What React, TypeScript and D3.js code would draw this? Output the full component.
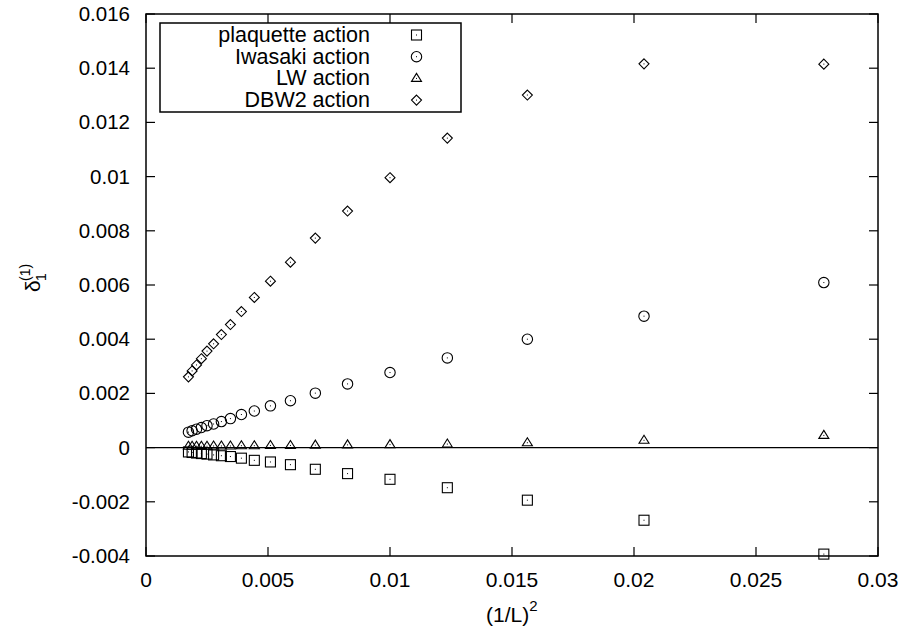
import React from 'react'
import * as d3 from 'd3'

// (1/L)^2 for the lattice sizes in the plot
const xVals = [0.02778, 0.02041, 0.01563, 0.01235, 0.01, 0.00826, 0.00694, 0.00592, 0.0051, 0.00444,
  0.00391, 0.00346, 0.00309, 0.00277, 0.0025, 0.00227, 0.00207, 0.00189, 0.00174]

const plaquette = [-0.00393, -0.00268, -0.00194, -0.00148, -0.00117, -0.00096, -0.0008, -0.00063, -0.00053, -0.00047,
  -0.00039, -0.00033, -0.0003, -0.00027, -0.00024, -0.00022, -0.0002, -0.00018, -0.00016]
const iwasaki = [0.00609, 0.00485, 0.004, 0.00331, 0.00277, 0.00235, 0.00201, 0.00173, 0.00154, 0.00135,
  0.00122, 0.00107, 0.00096, 0.00087, 0.00081, 0.00074, 0.00068, 0.00062, 0.00057]
const lw = [0.00045, 0.00027, 0.00018, 0.00013, 0.00011, 0.0001, 0.00009, 0.00008, 0.00008, 0.00007,
  0.00007, 0.00006, 0.00006, 0.00006, 0.00005, 0.00005, 0.00005, 0.00005, 0.00005]
const dbw2 = [0.01415, 0.01416, 0.01301, 0.01142, 0.00996, 0.00873, 0.00773, 0.00684, 0.00614, 0.00554,
  0.00502, 0.00454, 0.00417, 0.00383, 0.00356, 0.00328, 0.00305, 0.00283, 0.00261]

const seriesNames = ['plaquette action', 'Iwasaki action', 'LW action', 'DBW2 action']
const seriesShapes = ['square', 'circle', 'triangle', 'diamond']
const seriesValues = [plaquette, iwasaki, lw, dbw2]

const xTicks = [0, 0.005, 0.01, 0.015, 0.02, 0.025, 0.03]
const yTicks = [-0.004, -0.002, 0, 0.002, 0.004, 0.006, 0.008, 0.01, 0.012, 0.014, 0.016]

const W = 904
const H = 634
const m = { left: 146, right: 878, top: 14, bottom: 556 }
const font = 'Liberation Sans, Arial, Helvetica, sans-serif'
const fmt = (v: number) => String(+v.toFixed(3))

const Marker = ({ shape, x, y }: { shape: string; x: number; y: number }) => {
  const s = { fill: 'none', stroke: '#000', strokeWidth: 1.1 }
  let el
  if (shape === 'square') el = <rect x={x - 5} y={y - 5} width={10} height={10} {...s} />
  else if (shape === 'circle') el = <circle cx={x} cy={y} r={5.2} {...s} />
  else if (shape === 'triangle') el = <path d={`M${x},${y - 5}L${x + 5},${y + 3}L${x - 5},${y + 3}Z`} {...s} />
  else el = <path d={`M${x},${y - 5}L${x + 5},${y}L${x},${y + 5}L${x - 5},${y}Z`} {...s} />
  return (
    <g>
      {el}
      <rect x={x - 0.5} y={y - 0.5} width={1} height={1} fill="#000" />
    </g>
  )
}

const App = () => {
  const x = d3.scaleLinear().domain([0, 0.03]).range([m.left, m.right])
  const y = d3.scaleLinear().domain([-0.004, 0.016]).range([m.bottom, m.top])
  const tk = 9

  return (
    <svg width={W} height={H} style={{ position: 'absolute', left: 0, top: 0, background: '#fff' }}
      fontFamily={font}>
      <rect x={0} y={0} width={W} height={H} fill="#fff" />

      {/* zero line */}
      <line x1={m.left} x2={m.right} y1={y(0)} y2={y(0)} stroke="#000" strokeWidth={1.2} />

      {/* ticks */}
      {xTicks.map(t => (
        <g key={'x' + t}>
          <line x1={x(t)} x2={x(t)} y1={m.bottom} y2={m.bottom - tk} stroke="#000" strokeWidth={1.2} />
          <line x1={x(t)} x2={x(t)} y1={m.top} y2={m.top + tk} stroke="#000" strokeWidth={1.2} />
          <text x={x(t)} y={587} textAnchor="middle" fontSize={21}>{fmt(t)}</text>
        </g>
      ))}
      {yTicks.map(t => (
        <g key={'y' + t}>
          <line x1={m.left} x2={m.left + tk} y1={y(t)} y2={y(t)} stroke="#000" strokeWidth={1.2} />
          <line x1={m.right} x2={m.right - tk} y1={y(t)} y2={y(t)} stroke="#000" strokeWidth={1.2} />
          <text x={130} y={y(t) + 7} textAnchor="end" fontSize={20.5}>{fmt(t)}</text>
        </g>
      ))}

      {/* frame */}
      <rect x={m.left} y={m.top} width={m.right - m.left} height={m.bottom - m.top}
        fill="none" stroke="#000" strokeWidth={1.5} />

      {/* points */}
      {seriesValues.map((vals, si) => (
        <g key={seriesNames[si]}>
          {vals.map((v, i) => (
            <Marker key={i} shape={seriesShapes[si]} x={x(xVals[i])} y={y(v)} />
          ))}
        </g>
      ))}

      {/* legend */}
      <rect x={160} y={23} width={301} height={89} fill="#fff" stroke="#000" strokeWidth={1.5} />
      {seriesNames.map((n, i) => (
        <g key={n}>
          <text x={370} y={42 + i * 21.7} textAnchor="end" fontSize={21.5}>{n}</text>
          <Marker shape={seriesShapes[i]} x={416.5} y={35 + i * 21.7} />
        </g>
      ))}

      {/* axis labels */}
      <text x={486} y={622} fontSize={21}>
        (1/L)<tspan dy={-11} fontSize={15}>2</tspan>
      </text>
      <g transform="translate(40,292) rotate(-90)">
        <text x={0} y={0} fontSize={21}>δ</text>
        <text x={11} y={6} fontSize={14}>1</text>
        <text x={11} y={-10} fontSize={14}>(1)</text>
      </g>
    </svg>
  )
}

export default App
